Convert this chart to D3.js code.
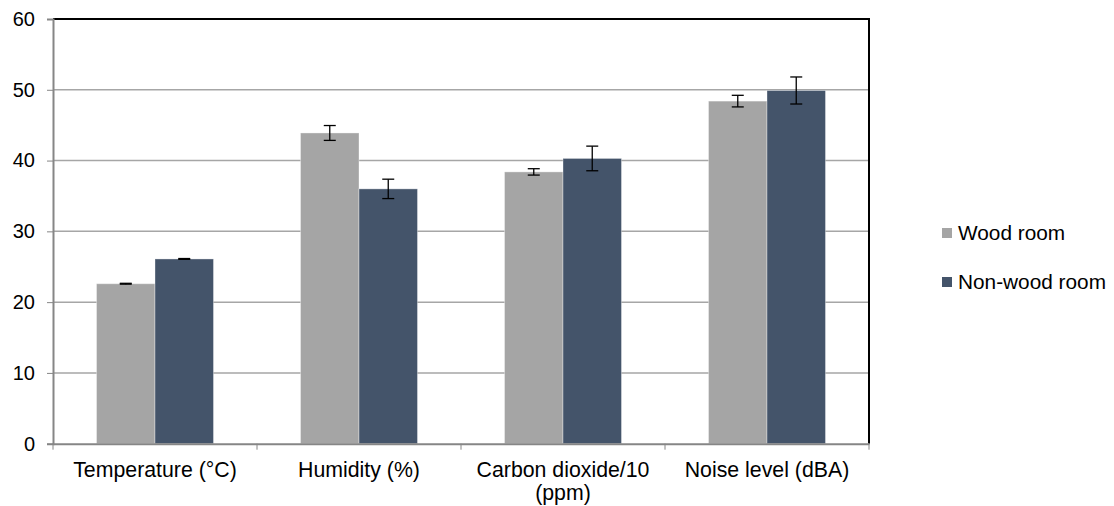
<!DOCTYPE html>
<html><head><meta charset="utf-8">
<script src="https://cdn.jsdelivr.net/npm/d3@7"></script>
<style>
html,body{margin:0;padding:0;background:#fff;}
text{font-family:"Liberation Sans",Arial,sans-serif;fill:#000;}
</style></head>
<body><svg id="c" width="1114" height="506"></svg>
<script>
const categories = ["Temperature (°C)", "Humidity (%)", "Carbon dioxide/10 (ppm)", "Noise level (dBA)"];
const seriesNames = ["Wood room", "Non-wood room"];
const woodValues = [22.6, 43.9, 38.4, 48.4];
const nonWoodValues = [26.1, 36.0, 40.3, 49.9];
const woodErrors = [0.06, 1.05, 0.45, 0.82];
const nonWoodErrors = [0.06, 1.37, 1.74, 1.91];
const yTicks = [0, 10, 20, 30, 40, 50, 60];
const colors = ["#a5a5a5", "#44546a"];

const svg = d3.select("#c");
const L = 53, R = 869, T = 19, B = 443.7;
const fsTick = 20, fsCat = 21.3, fsLeg = 20.8;

const x = d3.scaleBand().domain(categories).range([L, R]).paddingInner(0).paddingOuter(0);
const xs = d3.scaleBand().domain(seriesNames).range([0, x.bandwidth()]).paddingInner(0).paddingOuter(0.744);
const y = d3.scaleLinear().domain([0, 60]).range([B, T]);

// gridlines
svg.append("g").selectAll("line").data(yTicks.filter(t => t > 0 && t < 60)).join("line")
  .attr("x1", L).attr("x2", R).attr("y1", d => y(d)).attr("y2", d => y(d))
  .attr("stroke", "#a6a6a6").attr("stroke-width", 1.5);

const rows = categories.map((c, i) => ({
  cat: c,
  vals: [
    {s: seriesNames[0], v: woodValues[i], e: woodErrors[i]},
    {s: seriesNames[1], v: nonWoodValues[i], e: nonWoodErrors[i]}
  ]
}));

const g = svg.append("g").selectAll("g").data(rows).join("g")
  .attr("transform", d => `translate(${x(d.cat)},0)`);
g.selectAll("rect").data(d => d.vals).join("rect")
  .attr("x", d => xs(d.s)).attr("width", xs.bandwidth())
  .attr("y", d => y(d.v)).attr("height", d => y(0) - y(d.v))
  .attr("fill", (d, i) => colors[i])
  .attr("stroke", "rgba(255,255,255,0.35)").attr("stroke-width", 1);

// error bars
const eb = g.selectAll("g.eb").data(d => d.vals).join("g").attr("class", "eb")
  .attr("transform", d => `translate(${xs(d.s) + xs.bandwidth() / 2},0)`);
eb.append("line").attr("x1", 0).attr("x2", 0)
  .attr("y1", d => y(d.v + d.e)).attr("y2", d => y(d.v - d.e))
  .attr("stroke", "#000").attr("stroke-width", 1.3);
eb.append("line").attr("x1", -6).attr("x2", 6)
  .attr("y1", d => y(d.v + d.e)).attr("y2", d => y(d.v + d.e))
  .attr("stroke", "#000").attr("stroke-width", 1.3);
eb.append("line").attr("x1", -6).attr("x2", 6)
  .attr("y1", d => y(d.v - d.e)).attr("y2", d => y(d.v - d.e))
  .attr("stroke", "#000").attr("stroke-width", 1.3);

// frame top/right
svg.append("line").attr("x1", L).attr("x2", R + 1).attr("y1", y(60)).attr("y2", y(60)).attr("stroke", "#000").attr("stroke-width", 2);
svg.append("line").attr("x1", R).attr("x2", R).attr("y1", y(60)).attr("y2", B).attr("stroke", "#000").attr("stroke-width", 2);

// y axis
const yAxis = svg.append("g").attr("transform", `translate(${L},0)`)
  .call(d3.axisLeft(y).tickValues(yTicks).tickSize(6).tickPadding(12));
yAxis.select(".domain").attr("stroke", "#868686").attr("stroke-width", 2);
yAxis.selectAll(".tick line").attr("stroke", "#868686").attr("stroke-width", 1);
yAxis.selectAll("text").style("font-size", fsTick + "px").attr("fill", "#000");

// x axis
const xAxis = svg.append("g").attr("transform", `translate(0,${B})`)
  .call(d3.axisBottom(x).tickSize(0).tickPadding(0).tickFormat(""));
xAxis.select(".domain").attr("stroke", "#868686").attr("stroke-width", 2);
xAxis.selectAll(".tick").remove();
const bounds = [L].concat(categories.map(c => x(c) + x.bandwidth()));
xAxis.selectAll("line.b").data(bounds).join("line").attr("class", "b")
  .attr("x1", d => d).attr("x2", d => d).attr("y1", 0).attr("y2", 6)
  .attr("stroke", "#868686").attr("stroke-width", 1);

// category labels with wrapping (one text element per line)
const catG = svg.append("g");
categories.forEach(d => {
  const cx = x(d) + x.bandwidth() / 2;
  const tmp = catG.append("text").style("font-size", fsCat + "px");
  const words = d.split(" ");
  let line = [], lines = [];
  words.forEach(w => {
    tmp.text(line.concat([w]).join(" "));
    if (tmp.node().getComputedTextLength() > x.bandwidth() - 10 && line.length) {
      lines.push(line.join(" ")); line = [w];
    } else line.push(w);
  });
  lines.push(line.join(" "));
  tmp.remove();
  catG.selectAll(null).data(lines).join("text")
    .attr("x", cx).attr("y", (ln, i) => B + 33 + i * 23)
    .attr("text-anchor", "middle").style("font-size", fsCat + "px")
    .text(ln => ln);
});

// legend
const lg = svg.append("g").attr("transform", "translate(942,228)");
const li = lg.selectAll("g").data(seriesNames).join("g").attr("transform", (d, i) => `translate(0,${i * 49})`);
li.append("rect").attr("width", 10).attr("height", 10).attr("fill", (d, i) => colors[i]);
li.append("text").attr("x", 16).attr("y", 12).style("font-size", fsLeg + "px").text(d => d);
</script></body></html>
